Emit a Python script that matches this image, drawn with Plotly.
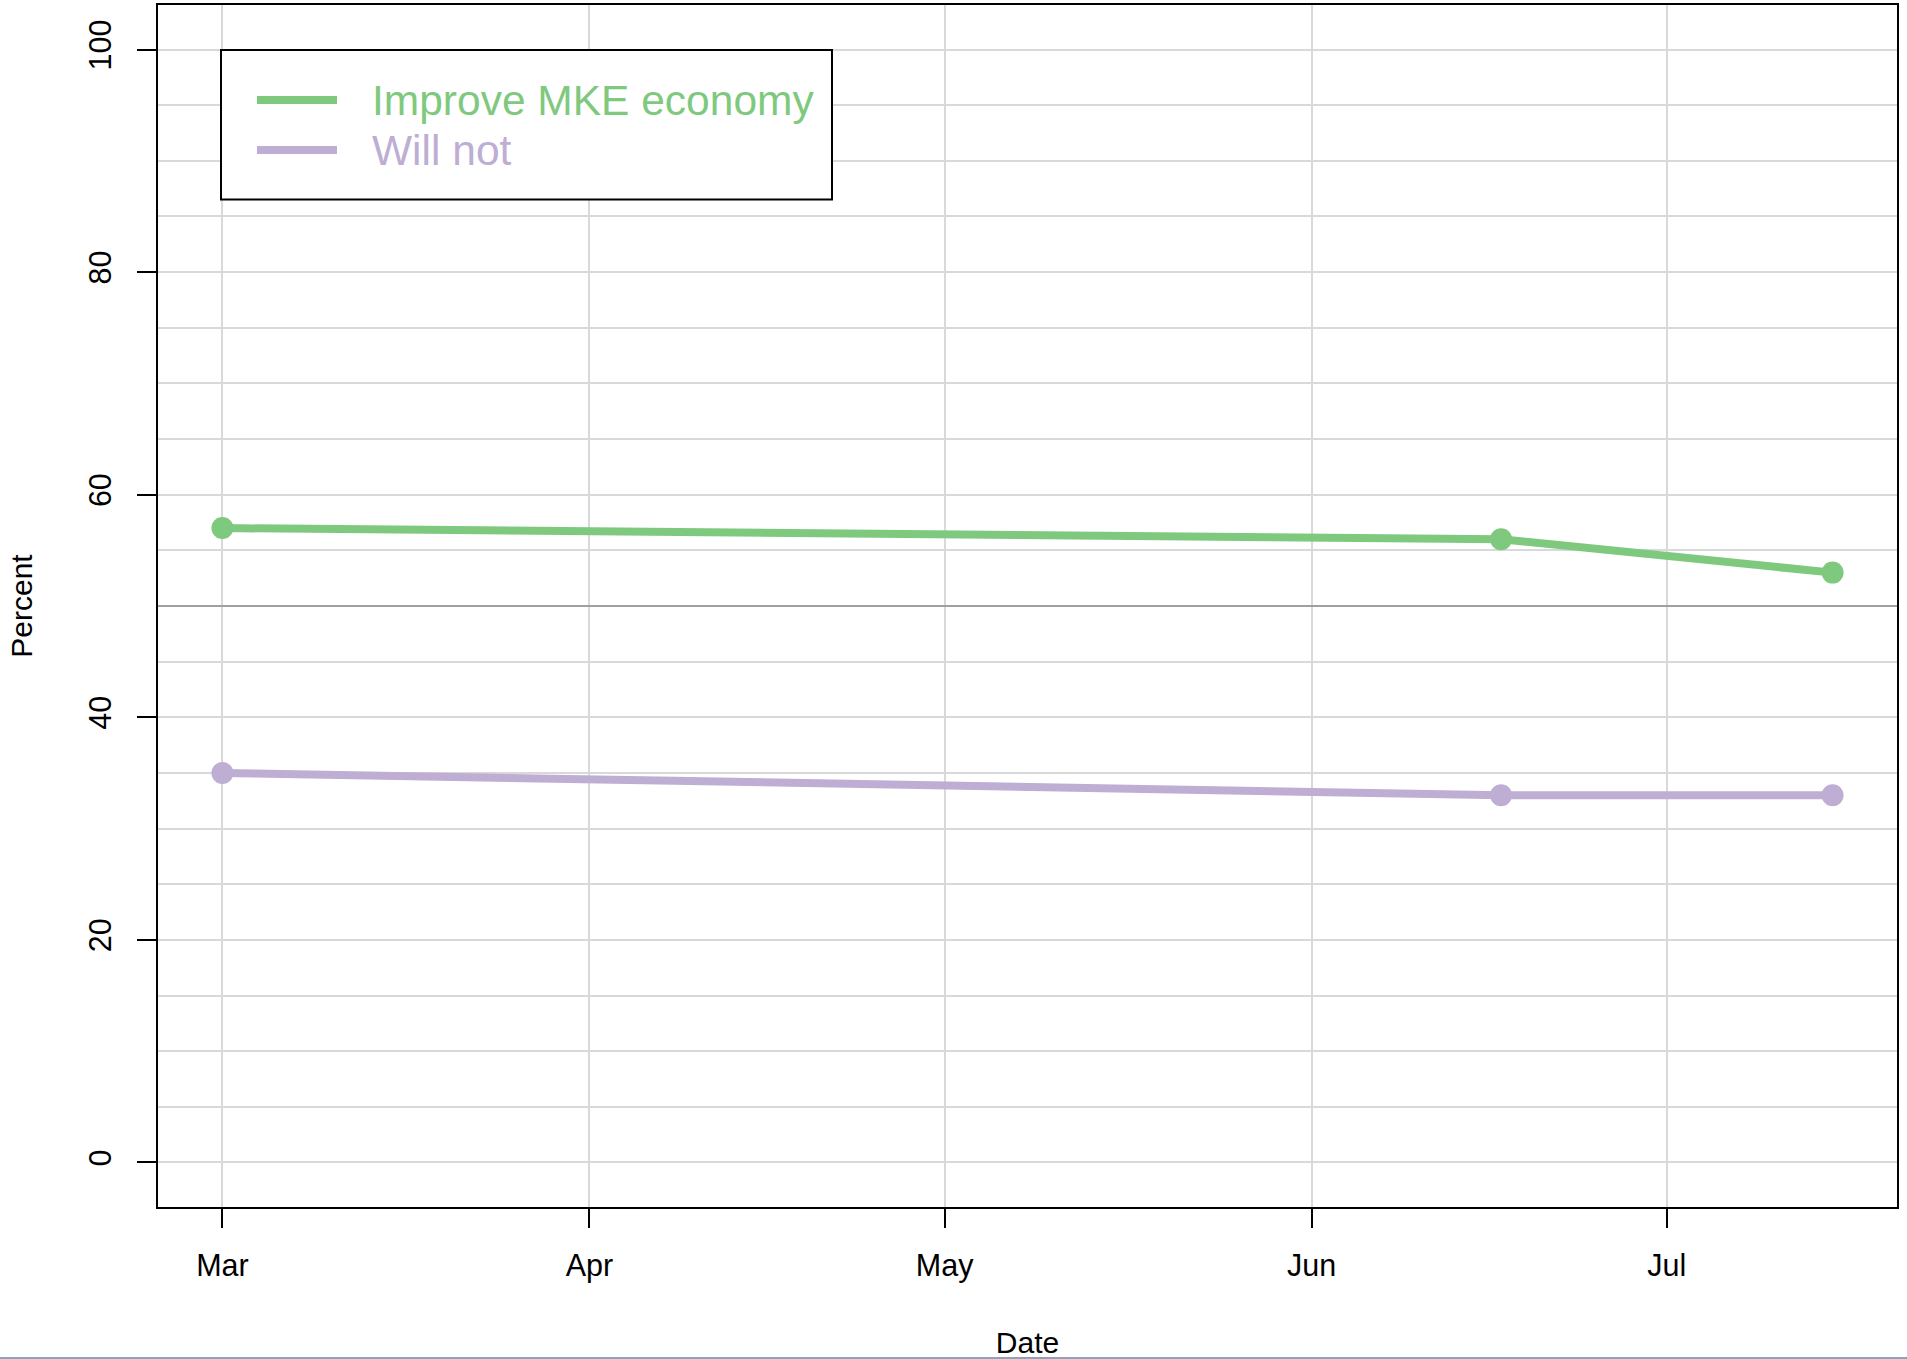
import plotly.graph_objects as go
import pandas as pd

# ---- data ----
dates = ["2014-03-01", "2014-06-17", "2014-07-15"]
improve = [57, 56, 53]
will_not = [35, 33, 33]
series_names = ["Improve MKE economy", "Will not"]
series_colors = ["#7FC97F", "#BEAED4"]
month_ticks = ["2014-03-01", "2014-04-01", "2014-05-01", "2014-06-01", "2014-07-01"]
month_labels = ["Mar", "Apr", "May", "Jun", "Jul"]
y_ticks = [0, 20, 40, 60, 80, 100]
y_labels = ["0", "20", "40", "60", "80", "100"]
ref_line = 50

# ---- layout geometry ----
W, H = 1907, 1359
L, R, T, B = 158, 10, 5, 152
PW, PH = W - L - R, H - T - B
FONT = "Liberation Sans, Arial, Helvetica, sans-serif"


def px_x(x):
    return (x - L) / PW


def px_y(y):
    return (H - B - y) / PH


d = pd.to_datetime(dates)
span = d.max() - d.min()
x_range = [d.min() - 0.04 * span, d.max() + 0.04 * span]

fig = go.Figure()
for vals, name, col in zip([improve, will_not], series_names, series_colors):
    fig.add_trace(go.Scatter(
        x=dates, y=vals, name=name, mode="lines+markers",
        line=dict(color=col, width=8),
        marker=dict(color=col, size=22),
        showlegend=False,
    ))

shapes = [
    dict(type="line", xref="paper", yref="y", x0=0, x1=1, y0=ref_line, y1=ref_line,
         line=dict(color="#A0A0A0", width=2), layer="above"),
    # legend box
    dict(type="rect", xref="paper", yref="paper",
         x0=px_x(221), x1=px_x(832), y0=px_y(199.5), y1=px_y(50),
         line=dict(color="black", width=2), fillcolor="white", layer="above"),
    # bottom page edge line
    dict(type="line", xref="paper", yref="paper", x0=px_x(0), x1=px_x(W),
         y0=px_y(1358), y1=px_y(1358), line=dict(color="#8FA3B8", width=2)),
]
annotations = []
rows = [100, 150]
for name, col, ry in zip(series_names, series_colors, rows):
    shapes.append(dict(type="line", xref="paper", yref="paper",
                       x0=px_x(257), x1=px_x(337), y0=px_y(ry), y1=px_y(ry),
                       line=dict(color=col, width=8), layer="above"))
    annotations.append(dict(xref="paper", yref="paper", x=px_x(370), y=px_y(ry),
                            xanchor="left", yanchor="middle", showarrow=False,
                            text=name, font=dict(family=FONT, size=42.5, color=col)))

fig.update_layout(
    width=W, height=H,
    margin=dict(l=L, r=R, t=T, b=B, autoexpand=False),
    paper_bgcolor="white", plot_bgcolor="white",
    font=dict(family=FONT, size=30, color="black"),
    shapes=shapes, annotations=annotations,
    showlegend=False,
    xaxis=dict(
        type="date", range=x_range, tickmode="array",
        tickvals=month_ticks, ticktext=month_labels,
        showgrid=True, gridcolor="#D9D9D9", gridwidth=2,
        showline=True, linecolor="black", linewidth=2, mirror=True,
        ticks="outside", ticklen=19, tickwidth=2, tickcolor="black",
        tickfont=dict(size=30.5), zeroline=False, ticklabelstandoff=11,
        title=dict(text="Date", font=dict(size=30), standoff=51),
    ),
    yaxis=dict(
        range=[-4, 104], tickmode="array", tickvals=y_ticks, ticktext=y_labels,
        tickangle=-90,
        showgrid=True, gridcolor="#D9D9D9", gridwidth=2,
        minor=dict(dtick=5, tick0=0, showgrid=True, gridcolor="#D9D9D9", gridwidth=2, ticks=""),
        showline=True, linecolor="black", linewidth=2, mirror=True,
        ticks="outside", ticklen=19, tickwidth=2, tickcolor="black",
        tickfont=dict(size=30.5), zeroline=False, ticklabelstandoff=14,
        title=dict(text="Percent", font=dict(size=30), standoff=41),
    ),
)

fig.write_html("out.html", config={"displayModeBar": False},
               post_script="document.body.style.margin='0px';")
